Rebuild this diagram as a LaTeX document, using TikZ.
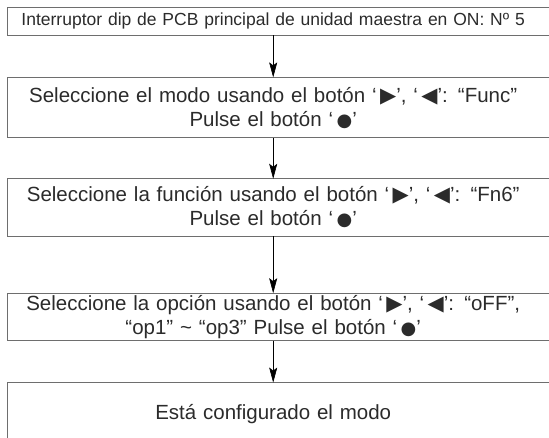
\documentclass[tikz,border=0pt]{standalone}
\usepackage{fontspec}
\setmainfont{Liberation Sans}
\newfontfamily\symfont{DejaVu Sans}
\usetikzlibrary{positioning, arrows.meta}
\definecolor{framegray}{HTML}{6E6E6E}
\definecolor{inkgray}{HTML}{2B2B2B}
\newcommand{\btn}[1]{\,{\symfont\fontsize{18}{18}\selectfont #1}}
\newcommand{\tri}[1]{\,{\symfont\fontsize{21}{21}\selectfont #1}}

\begin{document}
\begin{tikzpicture}[node distance=41pt, >={Stealth[length=15pt, width=8pt, inset=3pt]}, every node/.style={text=inkgray, inner sep=0pt}]
\tikzset{stepbox/.style={rectangle, minimum width=532pt, text width=524pt, align=center, font=\fontsize{20.5}{24}\selectfont}}
\useasboundingbox (0,0) rectangle (549pt,-438pt);
\node[stepbox, anchor=north west, minimum height=28pt, font=\fontsize{17.5}{20}\selectfont] (dip) at (7pt,-7pt) {Interruptor dip de PCB principal de unidad maestra en ON: Nº 5};
\node[stepbox, below=42pt of dip, minimum height=60pt] (mode) {Seleccione el modo usando el botón ‘\tri{▶}’, ‘\tri{◀}’: “Func”\\Pulse el botón ‘\btn{●}’};
\node[stepbox, below=of mode, minimum height=57pt] (fn) {Seleccione la función usando el botón ‘\tri{▶}’, ‘\tri{◀}’: “Fn6”\\Pulse el botón ‘\btn{●}’};
\node[stepbox, below=57pt of fn, minimum height=47pt] (opt) {Seleccione la opción usando el botón ‘\tri{▶}’, ‘\tri{◀}’: “oFF”,\\“op1” \textasciitilde{} “op3” Pulse el botón ‘\btn{●}’};
\node[stepbox, below=42pt of opt, minimum height=62pt] (done) {Está configurado el modo};

% open frames, cut off at the right edge
\foreach \n in {dip, mode, fn, opt, done}
  \draw[framegray, line width=0.8pt] ([xshift=30pt]\n.north east) -| (\n.south west) -- ([xshift=30pt]\n.south east);

\draw[->, line width=0.6pt] (dip) -- (mode);
\draw[->, line width=0.6pt] (mode) -- (fn);
\draw[->, line width=0.6pt] (fn) -- (opt);
\draw[->, line width=0.6pt] (opt) -- (done);
\end{tikzpicture}
\end{document}
